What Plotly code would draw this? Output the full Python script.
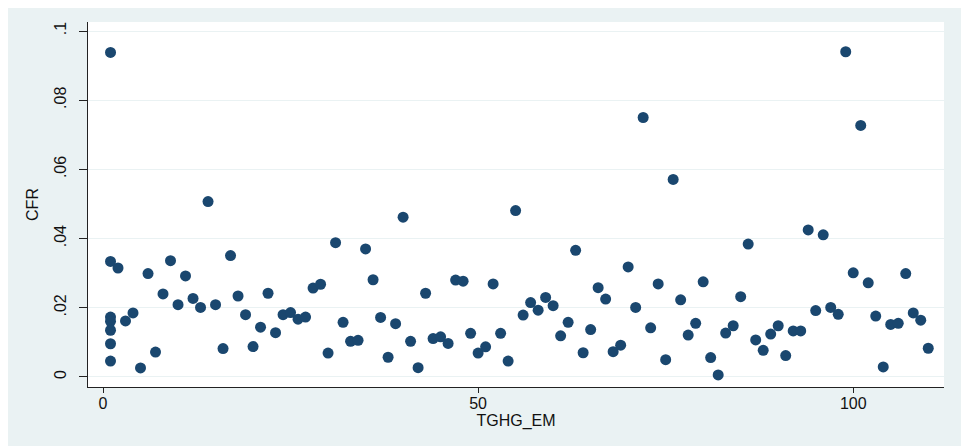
import plotly.graph_objects as go

# TGHG_EM values (x) and CFR values (y)
tghg_em = [1, 1, 1, 1, 1, 1, 1,
           2, 3, 4, 5, 6, 7, 8, 9, 10,
           11, 12, 13, 14, 15, 16, 17, 18, 19, 20,
           21, 22, 23, 24, 25, 26, 27, 28, 29, 30,
           31, 32, 33, 34, 35, 36, 37, 38, 39, 40,
           41, 42, 43, 44, 45, 46, 47, 48, 49, 50,
           51, 52, 53, 54, 55, 56, 57, 58, 59, 60,
           61, 62, 63, 64, 65, 66, 67, 68, 69, 70,
           71, 72, 73, 74, 75, 76, 77, 78, 79, 80,
           81, 82, 83, 84, 85, 86, 87, 88, 89, 90,
           91, 92, 93, 94, 95, 96, 97, 98, 99, 100,
           101, 102, 103, 104, 105, 106, 107, 108, 109, 110]
cfr = [0.0938, 0.0334, 0.0173, 0.0161, 0.0135, 0.0096, 0.0046,
       0.0315, 0.0162, 0.0185, 0.0026, 0.0299, 0.0072, 0.0240, 0.0336, 0.0209,
       0.0292, 0.0227, 0.0201, 0.0507, 0.0209, 0.0082, 0.0351, 0.0234, 0.0180, 0.0088,
       0.0144, 0.0242, 0.0128, 0.0180, 0.0186, 0.0167, 0.0173, 0.0257, 0.0268, 0.0069,
       0.0388, 0.0158, 0.0103, 0.0106, 0.0370, 0.0281, 0.0172, 0.0057, 0.0154, 0.0462,
       0.0103, 0.0027, 0.0242, 0.0111, 0.0116, 0.0097, 0.0280, 0.0277, 0.0126, 0.0069,
       0.0087, 0.0269, 0.0126, 0.0046, 0.0481, 0.0179, 0.0215, 0.0193, 0.0230, 0.0206,
       0.0119, 0.0158, 0.0366, 0.0070, 0.0137, 0.0258, 0.0225, 0.0073, 0.0092, 0.0318,
       0.0201, 0.0750, 0.0142, 0.0269, 0.0050, 0.0571, 0.0223, 0.0121, 0.0155, 0.0275,
       0.0056, 0.0006, 0.0127, 0.0148, 0.0232, 0.0384, 0.0107, 0.0077, 0.0124, 0.0148,
       0.0062, 0.0133, 0.0133, 0.0425, 0.0192, 0.0411, 0.0201, 0.0181, 0.0940, 0.0301,
       0.0727, 0.0272, 0.0176, 0.0029, 0.0152, 0.0155, 0.0299, 0.0185, 0.0164, 0.0083]

y_tickvals = [0, 0.02, 0.04, 0.06, 0.08, 0.1]
y_ticktext = ["0", ".02", ".04", ".06", ".08", ".1"]
x_tickvals = [0, 50, 100]
x_ticktext = ["0", "50", "100"]

BG = "#EAF2F3"
MARK = "#1A476F"
FONT = "Liberation Sans, Arial, sans-serif"

fig = go.Figure(go.Scatter(
    x=tghg_em, y=cfr, mode="markers",
    marker=dict(color=MARK, size=11, line=dict(width=0)),
    hoverinfo="x+y", showlegend=False,
))

fig.update_layout(
    width=961, height=438,
    margin=dict(l=80, r=25, t=14, b=59, pad=0),
    paper_bgcolor=BG, plot_bgcolor="white",
    font=dict(family=FONT, size=16, color="#111"),
)
fig.update_xaxes(
    range=[-2.0, 112.1], tickvals=x_tickvals, ticktext=x_ticktext,
    showgrid=False, zeroline=False,
    showline=True, linecolor="#222", linewidth=1,
    ticks="outside", ticklen=5, tickcolor="#222", tickwidth=1,
    tickfont=dict(size=16), ticklabelstandoff=-3,
    title=dict(text="TGHG_EM", font=dict(size=16), standoff=0),
)
fig.update_yaxes(
    range=[-0.0029, 0.1026], tickvals=y_tickvals, ticktext=y_ticktext,
    showgrid=True, gridcolor=BG, gridwidth=1, zeroline=False,
    showline=True, linecolor="#222", linewidth=1,
    ticks="outside", ticklen=8, tickcolor="#222", tickwidth=1,
    tickangle=-90, tickfont=dict(size=16), ticklabelstandoff=7,
    title=dict(text="CFR", font=dict(size=16), standoff=8),
)

fig.write_html("out.html")
